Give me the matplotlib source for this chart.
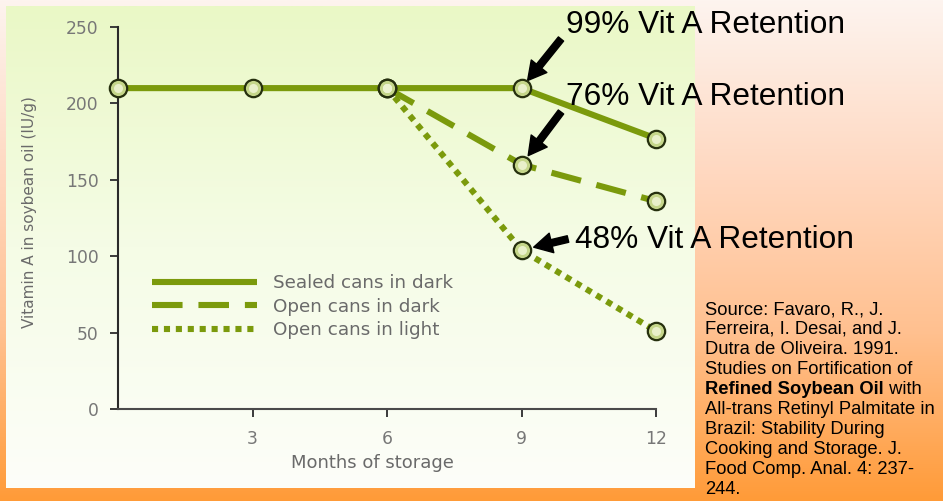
import numpy as np
import matplotlib.pyplot as plt
from matplotlib.colors import LinearSegmentedColormap

# storage data (months, vitamin A in IU/g)
months_sealed = [0, 3, 6, 9, 12]
sealed_dark = [210, 210, 210, 210, 177]
months_open = [6, 9, 12]
open_dark = [210, 160, 136]
open_light = [210, 104, 51]

series_labels = ['Sealed cans in dark', 'Open cans in dark', 'Open cans in light']
retention_labels = ['99% Vit A Retention', '76% Vit A Retention', '48% Vit A Retention']

source_lines = [
    'Source: Favaro, R., J.',
    'Ferreira, I. Desai, and J.',
    'Dutra de Oliveira. 1991.',
    'Studies on Fortification of',
    None,  # bold line handled below
    'All-trans Retinyl Palmitate in',
    'Brazil: Stability During',
    'Cooking and Storage. J.',
    'Food Comp. Anal. 4: 237-',
    '244.',
]

W, H = 943, 501
fig = plt.figure(figsize=(W / 100, H / 100), dpi=100)

# slide background + chart panel
bg = fig.add_axes([0, 0, 1, 1])
bg.axis('off')
slide_cmap = LinearSegmentedColormap.from_list(
    'slide', ['#fdf4ef', '#ffd9c2', '#ffc08f', '#ff9b38'])
grad = np.linspace(0, 1, 256).reshape(-1, 1)
bg.imshow(grad, cmap=slide_cmap, extent=[0, W, H, 0], aspect='auto')
panel_cmap = LinearSegmentedColormap.from_list('panel', ['#eaf8c6', '#f5fce6', '#fdfef9'])
bg.imshow(grad, cmap=panel_cmap, extent=[6, 695, 488, 6], aspect='auto')
bg.set_xlim(0, W)
bg.set_ylim(H, 0)

# data axes
x0, x1, y0, y1 = 118, 656, 409, 27
ax = fig.add_axes([x0 / W, 1 - y0 / H, (x1 - x0) / W, (y0 - y1) / H])
ax.patch.set_alpha(0)
ax.set_xlim(0, 12)
ax.set_ylim(0, 250)

green = '#7b9a0c'
lw = 4.4
ax.plot(months_open, open_light, color=green, lw=lw, linestyle=(0, (1.0, 0.95)),
        dash_capstyle='butt', label=series_labels[2], zorder=2)
ax.plot(months_open, open_dark, color=green, lw=lw, linestyle=(0, (5.0, 2.6)),
        dash_capstyle='butt', label=series_labels[1], zorder=2)
ax.plot(months_sealed, sealed_dark, color=green, lw=lw, label=series_labels[0],
        zorder=3, solid_capstyle='butt')

# circle markers with a light centre
for xs, ys in [(months_open, open_light), (months_open, open_dark),
               (months_sealed, sealed_dark)]:
    ax.plot(xs, ys, 'o', ms=12.5, mfc='#c5d68a', mec='#26300e', mew=1.6,
            clip_on=False, zorder=4)
    ax.plot(xs, ys, 'o', ms=6.5, mfc='#eef4d2', mec='none', alpha=0.9,
            clip_on=False, zorder=5)

for s in ['top', 'right']:
    ax.spines[s].set_visible(False)
ax.spines['left'].set_color('#2a2a2a')
ax.spines['bottom'].set_color('#4a4a4a')
ax.spines['left'].set_linewidth(1.5)
ax.spines['bottom'].set_linewidth(1.5)

ax.set_xticks([3, 6, 9, 12])
ax.set_yticks([0, 50, 100, 150, 200, 250])
ax.tick_params(axis='both', direction='out', length=6, width=1.4, colors='#3a3a3a',
               labelcolor='#777777', labelsize=12.3)
ax.tick_params(axis='y', pad=8)
ax.tick_params(axis='x', pad=9)

ax.set_xlabel('Months of storage', fontsize=13, color='#6a6a6a')
ax.xaxis.set_label_coords((372 - x0) / (x1 - x0), -(463 - y0) / (y0 - y1))
ax.xaxis.label.set_va('center')
ax.set_ylabel('Vitamin A in soybean oil (IU/g)', fontsize=11, color='#6a6a6a')
ax.yaxis.set_label_coords(-(x0 - 30) / (x1 - x0), (y0 - 212) / (y0 - y1))
ax.yaxis.label.set_va('center')

handles, labels = ax.get_legend_handles_labels()
order = [2, 1, 0]
leg = ax.legend([handles[i] for i in order], [labels[i] for i in order],
                loc='upper left', bbox_to_anchor=(152 / W, 1 - 274 / H),
                bbox_transform=fig.transFigure, frameon=False, fontsize=13.2,
                handlelength=5.7, handletextpad=0.9, labelspacing=0.3,
                borderpad=0, borderaxespad=0)
for t in leg.get_texts():
    t.set_color('#6a6a6a')

# retention callouts
text_kw = dict(fontsize=22.8, family='Liberation Sans', color='black', va='center')
fig.text(566 / W, 1 - 25 / H, retention_labels[0], **text_kw)
fig.text(566 / W, 1 - 97 / H, retention_labels[1], **text_kw)
fig.text(575 / W, 1 - 240 / H, retention_labels[2], **text_kw)

arrow_kw = dict(arrowstyle='simple,head_length=1.1,head_width=1.2,tail_width=0.4',
                color='black', mutation_scale=12, shrinkA=0)
ax.annotate('', xy=(9, sealed_dark[3]), xytext=(561, H - 39), xycoords='data',
            textcoords='figure pixels', arrowprops=dict(shrinkB=7, **arrow_kw))
ax.annotate('', xy=(9, open_dark[1]), xytext=(561, H - 112), xycoords='data',
            textcoords='figure pixels', arrowprops=dict(shrinkB=8, **arrow_kw))
ax.annotate('', xy=(9, open_light[1]), xytext=(568, H - 239), xycoords='data',
            textcoords='figure pixels', arrowprops=dict(shrinkB=9, **arrow_kw))

# source note
src_kw = dict(fontsize=13.2, family='Liberation Sans', color='black', va='center')
line_y = [310, 329, 349, 369, 389, 410, 430, 450, 470, 490]
for txt, yy in zip(source_lines, line_y):
    if txt is not None:
        fig.text(705 / W, 1 - yy / H, txt, **src_kw)
bold = fig.text(705 / W, 1 - line_y[4] / H, 'Refined Soybean Oil', weight='bold', **src_kw)
renderer = fig.canvas.get_renderer()
bb = bold.get_window_extent(renderer)
fig.text(bb.x1 / W, 1 - line_y[4] / H, ' with', **src_kw)

fig.savefig('out.png', dpi=100)
